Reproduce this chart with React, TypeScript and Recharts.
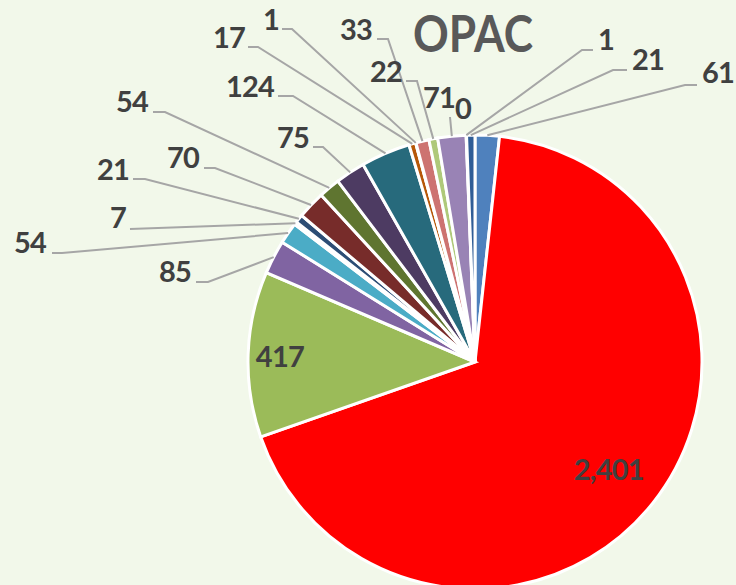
import { PieChart, Pie, Cell } from 'recharts'

const labels = ['61', '2401', '417', '85', '54', '7', '21', '70', '54', '75', '124', '17', '1', '33', '22', '71', '0', '1', '21']
const values = [61, 2401, 417, 85, 54, 7, 21, 70, 54, 75, 124, 17, 1, 33, 22, 71, 0, 1, 21]
const colors = [
    '#4F81BD', '#FF0000', '#9BBB59', '#8064A2', '#4BACC6', '#F79646', '#2C4D75', '#772C2A', '#5F7530', '#4D3B62',
    '#276A7C', '#B65708', '#729ACA', '#CD7371', '#AFC97A', '#9983B5', '#6FBDD1', '#F9AB6B', '#305D96',
]

// label placement (Excel "best fit" look): inside = radial fraction, otherwise text spot + leader elbow
type LabelSpot = { inside?: number; tx?: number; ty?: number; ex?: number; ey?: number; hx?: number }
const labelSpots: LabelSpot[] = [
    { tx: 702, ty: 83, ex: 685, ey: 85, hx: 697 },
    { inside: 0.753 },
    { inside: 0.86 },
    { tx: 159, ty: 282, ex: 208, ey: 282, hx: 196 },
    { tx: 14, ty: 253, ex: 62, ey: 253, hx: 52 },
    { tx: 110, ty: 228, ex: 130, ey: 229, hx: 130 },
    { tx: 97, ty: 180, ex: 145, ey: 179, hx: 133 },
    { tx: 167, ty: 168, ex: 215, ey: 168, hx: 204 },
    { tx: 116, ty: 112, ex: 165, ey: 112, hx: 153 },
    { tx: 277, ty: 148, ex: 323, ey: 147, hx: 313 },
    { tx: 226, ty: 97, ex: 293, ey: 96, hx: 278 },
    { tx: 213, ty: 48, ex: 258, ey: 47, hx: 248 },
    { tx: 263, ty: 30, ex: 292, ey: 29, hx: 282 },
    { tx: 340, ty: 40, ex: 388, ey: 39, hx: 377 },
    { tx: 370, ty: 82, ex: 417, ey: 81, hx: 406 },
    { tx: 423, ty: 108, ex: 450, ey: 117, hx: 450 },
    { tx: 455, ty: 119 },
    { tx: 598, ty: 50, ex: 582, ey: 50, hx: 593 },
    { tx: 632, ty: 70, ex: 613, ey: 70, hx: 627 },
]

const data = labels.map((name, i) => ({ name, value: values[i] }))

const RADIAN = Math.PI / 180
const FONT = 'Lato, "Open Sans", sans-serif'
const TEXT = '#404040'
const labelStyle = { fontFamily: FONT, fontWeight: 700, fontSize: 29, letterSpacing: -0.8 }

const renderLabel = (props: any) => {
    const { cx, cy, midAngle, outerRadius, index, value } = props
    const spot = labelSpots[index]
    const text = Number(value).toLocaleString('en-US')
    if (!spot) return null
    if (spot.inside) {
        const r = outerRadius * spot.inside
        const x = cx + r * Math.cos(-midAngle * RADIAN)
        const y = cy + r * Math.sin(-midAngle * RADIAN)
        return (
            <text x={x} y={y} textAnchor="middle" dominantBaseline="central" fill={TEXT} style={labelStyle}>
                {text}
            </text>
        )
    }
    const sx = cx + outerRadius * Math.cos(-midAngle * RADIAN)
    const sy = cy + outerRadius * Math.sin(-midAngle * RADIAN)
    return (
        <g>
            {spot.ex !== undefined && (
                <polyline
                    points={`${sx},${sy} ${spot.ex},${spot.ey} ${spot.hx},${spot.ey}`}
                    fill="none"
                    stroke="#A6A6A6"
                    strokeWidth={2}
                />
            )}
            <text x={spot.tx} y={spot.ty} textAnchor="start" fill={TEXT} style={labelStyle}>
                {text}
            </text>
        </g>
    )
}

const App = () => {
    return (
        <div style={{ position: 'absolute', left: 0, top: 0, width: 736, height: 585, background: '#F2F8EA', overflow: 'hidden' }}>
            <svg width={736} height={585} style={{ position: 'absolute', left: 0, top: 0 }}>
                <text x={473} y={52} textAnchor="middle" fill="#595959" textLength={120} lengthAdjust="spacingAndGlyphs"
                    style={{ fontFamily: FONT, fontWeight: 700, fontSize: 51 }}>
                    OPAC
                </text>
            </svg>
            <div style={{ position: 'absolute', left: 0, top: 0 }}>
                <PieChart width={736} height={585} margin={{ top: 0, right: 0, bottom: 0, left: 0 }}>
                    <Pie
                        data={data}
                        dataKey="value"
                        nameKey="name"
                        cx={475}
                        cy={362}
                        outerRadius={227}
                        startAngle={90}
                        endAngle={-270}
                        stroke="#FFFFFF"
                        strokeWidth={3}
                        label={renderLabel}
                        labelLine={false}
                        isAnimationActive={false}
                    >
                        {data.map((entry, index) => (
                            <Cell key={`cell-${index}`} fill={colors[index]} />
                        ))}
                    </Pie>
                </PieChart>
            </div>
        </div>
    )
}

export default App
